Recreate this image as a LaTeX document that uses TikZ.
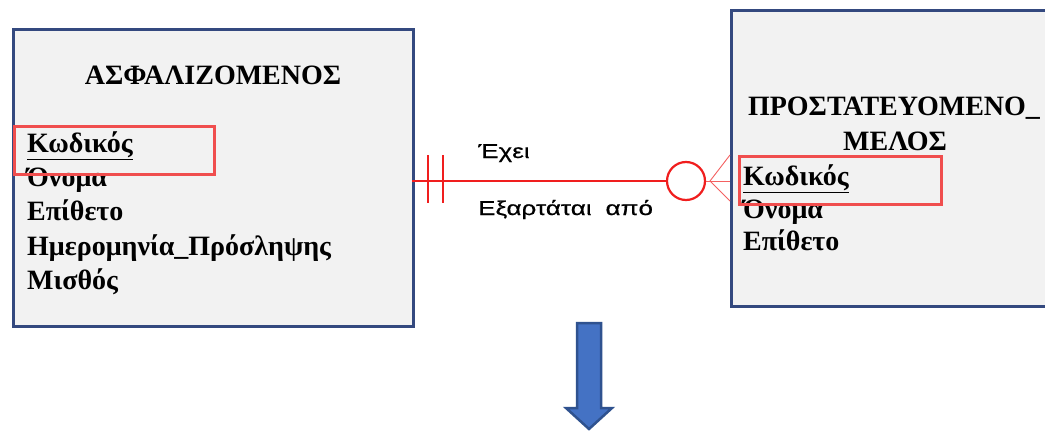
\documentclass[tikz,border=0pt]{standalone}
\usepackage{fontspec}
\setmainfont{Liberation Serif}
\newfontfamily\relfont[FakeStretch=1.3,FakeBold=0.6]{Liberation Sans}
\definecolor{boxblue}{HTML}{34497F}
\definecolor{boxgray}{HTML}{F2F2F2}
\definecolor{hilite}{HTML}{F04E4E}
\definecolor{relred}{HTML}{F01E1E}
\definecolor{arrfill}{HTML}{4472C4}
\definecolor{arrdraw}{HTML}{2F528F}
\begin{document}
\begin{tikzpicture}[x=1pt,y=-1pt,
  entbox/.style={draw=boxblue, fill=boxgray, line width=2.5pt, inner sep=0pt, anchor=north west},
  ttl/.style={anchor=base, inner sep=0pt, font=\fontsize{28}{32}\selectfont\bfseries},
  attr/.style={anchor=base west, inner sep=0pt, font=\fontsize{28}{32}\selectfont\bfseries},
  keybox/.style={draw=hilite, line width=3pt, inner sep=0pt, anchor=north west},
  rel/.style={draw=relred, line width=1.4pt},
  relthin/.style={draw=relred!70, line width=0.9pt},
  rellabel/.style={anchor=base west, inner sep=0pt, font=\relfont\fontsize{20}{24}\selectfont},
  bigarrow/.style={fill=arrfill, draw=arrdraw, line width=2.5pt, line join=miter}]
\fill[white] (0,0) rectangle (1045,431);
\useasboundingbox (0,0) rectangle (1045,431);
% entity 1
\node[entbox, minimum width=400pt, minimum height=297pt] (ent1) at (12,28) {};
\node[ttl] (t1) at (213,84) {ΑΣΦΑΛΙΖΟΜΕΝΟΣ};
\node[attr] (a1) at (27,152) {\underline{Κωδικός}};
\node[attr] (a2) at (27,186) {Όνομα};
\node[attr] (a3) at (27,220) {Επίθετο};
\node[attr] (a4) at (27,255) {Ημερομηνία\_Πρόσληψης};
\node[attr] (a5) at (27,289) {Μισθός};
\node[keybox, minimum width=200pt, minimum height=48pt] (k1) at (13,125) {};
% entity 2
\node[entbox, minimum width=330pt, minimum height=296pt] (ent2) at (730,9) {};
\node[ttl] (t2a) at (894,115) {ΠΡΟΣΤΑΤΕΥΟΜΕΝΟ\_};
\node[ttl] (t2b) at (895,150) {ΜΕΛΟΣ};
\node[attr] (b1) at (743,185) {\underline{Κωδικός}};
\node[attr] (b2) at (743,218) {Όνομα};
\node[attr] (b3) at (743,250) {Επίθετο};
\node[keybox, minimum width=202pt, minimum height=48pt] (k2) at (738,155) {};
% relationship
\coordinate (L) at (412,181);
\coordinate (R) at (730,181);
\coordinate (foot) at (710,181);
\node[circle, draw=relred, line width=2.2pt, minimum size=38pt, inner sep=0pt] (circ) at (686,181) {};
\draw[rel] (L) -- (circ.west);
\draw[relred, line width=2.5pt] (428,155) -- (428,203);
\draw[relred, line width=2.5pt] (443,155) -- (443,203);
\draw[relthin] (circ.east) -- (R);
\draw[relthin] (R |- 0,155) -- (foot) -- (R |- 0,201);
\node[rellabel] (l1) at (478,158) {Έχει};
\node[rellabel] (l2) at (478,215) {Εξαρτάται\hspace{14pt}από};
% big arrow
\draw[bigarrow] (577,323) -- (601,323) -- (601,408) -- (612,408) -- (589,429) -- (566,408) -- (577,408) -- cycle;
\end{tikzpicture}
\end{document}
